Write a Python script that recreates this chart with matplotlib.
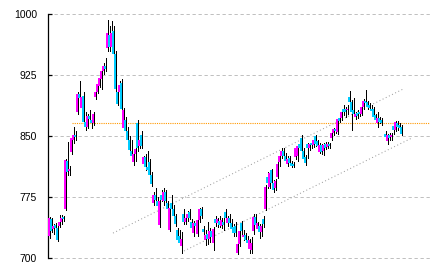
import numpy as np
import matplotlib
matplotlib.use("Agg")
import matplotlib.pyplot as plt

plt.rcParams['font.family'] = ['Liberation Sans', 'DejaVu Sans']

# =====================================
# 1. Data
# =====================================
opens = [727, 748, 736, 741, 737, 740, 745, 751, 760, 820, 807, 831, 845, 852, 880, 902, 885, 900, 868, 862,
         875, 870, 866, 898, 905, 912, 920, 930, 936, 958, 975, 960, 979, 951, 905, 905, 915, 860, 870, 856,
         845, 832, 818, 828, 866, 838, 852, 816, 824, 812, 818, 803, 768, 778, 770, 741, 778, 770, 782, 768,
         735, 768, 760, 752, 735, 728, 715, 754, 745, 750, 757, 745, 731, 743, 730, 747, 760, 736, 722, 730,
         724, 734, 719, 748, 743, 746, 740, 745, 757, 743, 750, 744, 738, 740, 707, 718, 743, 726, 729, 722,
         711, 710, 733, 751, 736, 740, 732, 748, 761, 800, 788, 808, 793, 786, 800, 818, 826, 832, 826, 816,
         823, 817, 816, 824, 826, 840, 848, 832, 824, 840, 836, 842, 839, 850, 844, 831, 839, 832, 841, 837,
         841, 848, 854, 859, 855, 872, 872, 884, 883, 882, 898, 892, 882, 874, 879, 880, 878, 886, 894, 892,
         888, 884, 884, 876, 866, 872, 870, 853, 844, 852, 849, 863, 858, 866, 864, 862]
highs = [751, 750, 742, 744, 740, 753, 753, 752, 822, 843, 813, 850, 862, 856, 904, 918, 900, 904, 880, 877,
         882, 878, 880, 908, 918, 925, 933, 940, 946, 993, 985, 992, 986, 955, 912, 918, 920, 885, 874, 862,
         850, 845, 830, 837, 870, 850, 856, 826, 828, 832, 822, 806, 782, 786, 775, 772, 784, 786, 784, 770,
         765, 778, 765, 755, 737, 735, 732, 760, 752, 758, 760, 748, 746, 746, 750, 762, 763, 740, 735, 745,
         737, 736, 738, 752, 750, 752, 750, 750, 760, 752, 754, 748, 742, 745, 720, 736, 746, 735, 731, 727,
         724, 726, 754, 754, 745, 742, 742, 752, 790, 806, 808, 810, 796, 797, 818, 828, 835, 836, 829, 826,
         826, 820, 819, 838, 840, 843, 852, 835, 827, 842, 842, 844, 848, 852, 846, 842, 841, 842, 843, 843,
         842, 856, 860, 861, 873, 875, 881, 889, 886, 888, 906, 895, 897, 880, 882, 882, 888, 896, 907, 894,
         891, 889, 886, 878, 880, 874, 872, 856, 853, 854, 854, 865, 869, 869, 866, 864]
lows = [725, 732, 730, 734, 721, 738, 742, 746, 759, 803, 802, 828, 842, 846, 878, 895, 882, 866, 858, 860,
        868, 860, 864, 896, 903, 910, 908, 926, 930, 955, 955, 958, 948, 905, 888, 900, 880, 858, 850, 842,
        830, 822, 815, 820, 832, 836, 836, 814, 808, 805, 800, 789, 765, 768, 760, 739, 770, 766, 768, 756,
        733, 758, 748, 740, 720, 716, 706, 742, 742, 746, 748, 735, 727, 737, 727, 745, 750, 730, 716, 717,
        720, 722, 710, 740, 739, 738, 737, 735, 746, 740, 740, 733, 728, 728, 705, 715, 730, 722, 720, 715,
        706, 707, 730, 738, 733, 725, 728, 738, 759, 786, 786, 790, 782, 784, 799, 814, 823, 822, 817, 814,
        815, 812, 812, 822, 820, 833, 830, 820, 815, 823, 833, 836, 837, 838, 835, 829, 828, 827, 834, 835,
        836, 846, 852, 854, 853, 868, 870, 876, 874, 878, 890, 858, 877, 871, 873, 875, 876, 884, 890, 884,
        882, 878, 872, 868, 862, 866, 864, 846, 841, 846, 846, 853, 856, 858, 856, 851]
closes = [749, 733, 740, 737, 723, 745, 749, 748, 821, 806, 810, 848, 852, 849, 902, 897, 898, 868, 862, 875,
          871, 866, 878, 905, 914, 922, 930, 936, 933, 977, 960, 977, 951, 908, 890, 913, 884, 882, 856, 845,
          833, 826, 828, 834, 835, 846, 838, 824, 812, 808, 803, 791, 778, 772, 764, 770, 772, 782, 770, 760,
          762, 760, 752, 742, 723, 719, 724, 745, 750, 755, 750, 737, 743, 740, 747, 760, 752, 732, 729, 724,
          734, 726, 736, 744, 748, 741, 747, 741, 749, 749, 743, 736, 731, 731, 717, 734, 733, 729, 722, 719,
          722, 719, 751, 741, 743, 732, 740, 742, 788, 792, 805, 793, 784, 795, 816, 826, 832, 826, 820, 822,
          817, 814, 814, 835, 838, 836, 832, 822, 817, 836, 840, 839, 846, 841, 838, 839, 831, 839, 836, 841,
          838, 854, 859, 856, 871, 869, 880, 880, 880, 884, 892, 880, 878, 878, 875, 877, 886, 894, 891, 886,
          885, 881, 874, 870, 873, 868, 866, 849, 851, 848, 851, 858, 867, 861, 860, 853]
# trading-day slot of each candle (one missing day before the last group)
days = list(range(0, 167)) + list(range(168, 177))

# channel lines (start/end day, value) and resistance level
upper_line_x = [32, 177]
upper_line_y = [731, 908]
lower_line_x = [67.5, 181.5]
lower_line_y = [709, 848]
resist_level = 866
resist_start = 11.3

yticks = [700, 775, 850, 925, 1000]

# =====================================
# 2. Plot
# =====================================
fig = plt.figure(figsize=(4.32, 2.72), dpi=100)
ax = fig.add_axes([48 / 432, 13.7 / 272, 382 / 432, 244 / 272])

o = np.array(opens)
h = np.array(highs)
l = np.array(lows)
c = np.array(closes)
x = np.array(days)

up_col = '#ff00ff'
dn_col = '#00ccff'
colors = [up_col if cc >= oo else dn_col for oo, cc in zip(o, c)]

for yv in yticks:
    ax.axhline(yv, color='#c0c0c0', lw=0.72, ls=(0, (3.3, 2.7)), zorder=1, clip_on=False)

ax.plot([resist_start, 190.5], [resist_level, resist_level], color='#ff9900', lw=0.8,
        ls=(0, (1, 1)), zorder=1.5)
ax.plot(upper_line_x, upper_line_y, color='#999999', lw=0.72, ls=(0, (1, 2.5)), zorder=1.5)
ax.plot(lower_line_x, lower_line_y, color='#999999', lw=0.72, ls=(0, (1, 2.5)), zorder=1.5)

ax.vlines(x + 0.35, l, h, color='black', lw=0.72, zorder=2, antialiased=False)
body_h = np.maximum(np.abs(c - o), 1.5)
ax.bar(x, body_h, bottom=np.minimum(o, c), width=1.0, color=colors, lw=0,
       zorder=3, antialiased=False)

ax.set_xlim(-0.5, 190.5)
ax.set_ylim(700, 1000)
ax.set_yticks(yticks)
ax.set_xticks([])
for s in ['top', 'right', 'bottom']:
    ax.spines[s].set_visible(False)
ax.spines['left'].set_linewidth(0.9)
ax.tick_params(axis='y', direction='in', length=3, width=0.9, pad=8, labelsize=7.5)

fig.savefig('out.png', dpi=100)
